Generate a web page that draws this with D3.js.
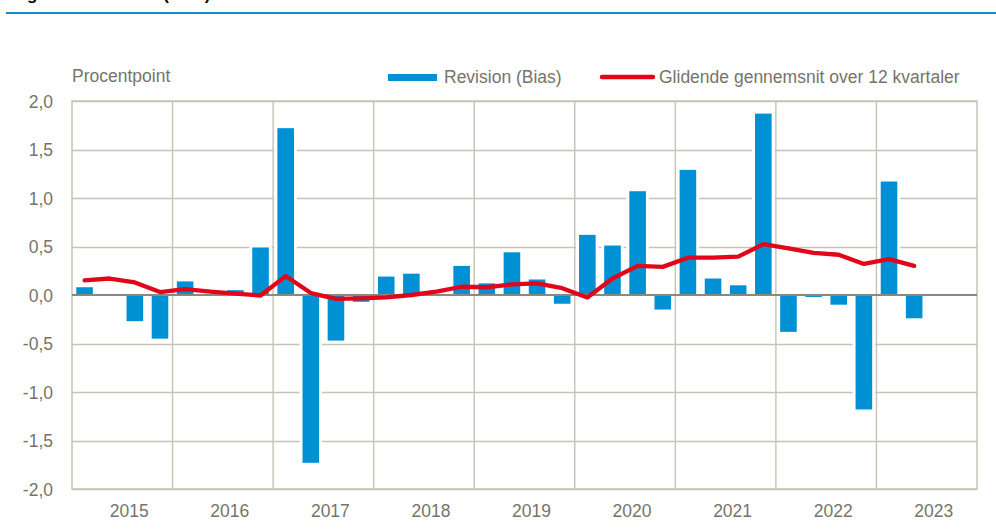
<!DOCTYPE html>
<html>
<head>
<meta charset="utf-8">
<script src="https://cdn.jsdelivr.net/npm/d3@7"></script>
<style>
  html, body { margin: 0; padding: 0; background: #ffffff; }
  svg { display: block; }
  text { font-family: "Liberation Sans", Arial, sans-serif; }
</style>
</head>
<body>
<svg id="chart" width="996" height="531"></svg>
<script>
// ---------------- DATA ----------------
const years = ["2015", "2016", "2017", "2018", "2019", "2020", "2021", "2022", "2023"];
const quarters = ["K1", "K2", "K3", "K4"];
// Revision (Bias), percentage points, quarterly from 2015K1 (null = no value)
const revision = [
  0.08, 0.00, -0.27, -0.45,
  0.14, 0.00, 0.05, 0.49,
  1.72, -1.73, -0.47, -0.07,
  0.19, 0.22, 0.00, 0.30,
  0.12, 0.44, 0.16, -0.09,
  0.62, 0.51, 1.07, -0.15,
  1.29, 0.17, 0.10, 1.87,
  -0.38, -0.02, -0.10, -1.18,
  1.17, -0.24, null, null
];
// Moving average over 12 quarters
const movingAvg = [
  0.15, 0.17, 0.13, 0.03,
  0.06, 0.035, 0.015, -0.005,
  0.195, 0.02, -0.04, -0.035,
  -0.025, 0.00, 0.035, 0.085,
  0.08, 0.11, 0.12, 0.07,
  -0.025, 0.17, 0.30, 0.29,
  0.385, 0.385, 0.395, 0.525,
  0.48, 0.435, 0.415, 0.32,
  0.37, 0.30, null, null
];
const yTicks = [-2.0, -1.5, -1.0, -0.5, 0.0, 0.5, 1.0, 1.5, 2.0];
const yLabel = "Procentpoint";
const legendLabels = ["Revision (Bias)", "Glidende gennemsnit over 12 kvartaler"];
const titleText = "Figur 2.1 Revision (BNP)";

// ---------------- LAYOUT ----------------
const colBar = "#0091d5", colLine = "#e2061b", colGrid = "#c6c3b6", colZero = "#8b897c", colText = "#76746a";
const pLeft = 72, pRight = 977, pTop = 101, pBottom = 489;
const fs = 17.5;

const periods = [];
years.forEach(yr => quarters.forEach(q => periods.push(yr + q)));

const svg = d3.select("#chart");

const x = d3.scaleBand().domain(periods).range([pLeft, pRight]).paddingInner(0.34).paddingOuter(0.17);
const xYear = d3.scaleBand().domain(years).range([pLeft, pRight]);
const y = d3.scaleLinear().domain([-2, 2]).range([pBottom, pTop]);

// title (cropped at top edge, as in the reference) and blue rule
svg.append("text").attr("x", 12).attr("y", -0.5).attr("font-weight", "bold")
  .attr("font-size", 17).attr("fill", "#000").text(titleText);
svg.append("line").attr("x1", 6).attr("x2", 996).attr("y1", 13).attr("y2", 13)
  .attr("stroke", "#0a8fd0").attr("stroke-width", 2);

// grid
const grid = svg.append("g");
grid.selectAll("line.h").data(yTicks.filter(d => d !== 0)).enter().append("line")
  .attr("x1", pLeft).attr("x2", pRight)
  .attr("y1", d => Math.round(y(d)) + 0.5).attr("y2", d => Math.round(y(d)) + 0.5)
  .attr("stroke", colGrid).attr("stroke-width", 1.4);
grid.selectAll("line.v").data(years.slice(1)).enter().append("line")
  .attr("x1", d => xYear(d)).attr("x2", d => xYear(d))
  .attr("y1", pTop).attr("y2", pBottom)
  .attr("stroke", colGrid).attr("stroke-width", 1.4);
// border
grid.append("rect").attr("x", pLeft).attr("y", pTop).attr("width", pRight - pLeft).attr("height", pBottom - pTop)
  .attr("fill", "none").attr("stroke", colGrid).attr("stroke-width", 1.5);

// bars with white halo
const barData = periods.map((p, i) => ({ p, v: revision[i] })).filter(d => d.v !== null && d.v !== 0);
svg.append("g").selectAll("rect").data(barData).enter().append("rect")
  .attr("x", d => x(d.p) - 3).attr("width", x.bandwidth() + 6)
  .attr("y", d => Math.min(y(d.v), y(0)) - 1.5)
  .attr("height", d => Math.abs(y(d.v) - y(0)) + 3)
  .attr("fill", "#ffffff");
svg.append("g").selectAll("rect").data(barData).enter().append("rect")
  .attr("x", d => x(d.p)).attr("width", x.bandwidth())
  .attr("y", d => Math.min(y(d.v), y(0)))
  .attr("height", d => Math.abs(y(d.v) - y(0)))
  .attr("fill", colBar);

// zero line
svg.append("line").attr("x1", pLeft).attr("x2", pRight).attr("y1", y(0)).attr("y2", y(0))
  .attr("stroke", colZero).attr("stroke-width", 2);

// moving average line
const lineData = periods.map((p, i) => ({ p, v: movingAvg[i] })).filter(d => d.v !== null);
svg.append("path").datum(lineData)
  .attr("d", d3.line().x(d => x(d.p) + x.bandwidth() / 2).y(d => y(d.v)))
  .attr("fill", "none").attr("stroke", colLine).attr("stroke-width", 4.3)
  .attr("stroke-linejoin", "round").attr("stroke-linecap", "round");

// y tick labels
const fmt = v => (v < 0 ? "-" : "") + Math.abs(v).toFixed(1).replace(".", ",");
svg.append("g").selectAll("text").data(yTicks).enter().append("text")
  .attr("x", 53).attr("y", d => y(d) + 6.5).attr("text-anchor", "end")
  .attr("font-size", fs).attr("fill", colText).text(fmt);

// x year labels
svg.append("g").selectAll("text").data(years).enter().append("text")
  .attr("x", d => xYear(d) + xYear.bandwidth() / 2 + 7).attr("y", 517).attr("text-anchor", "middle")
  .attr("font-size", fs).attr("fill", colText).text(d => d);

// unit label
svg.append("text").attr("x", 72).attr("y", 82).attr("font-size", fs).attr("fill", colText).text(yLabel);

// legend
svg.append("rect").attr("x", 388).attr("y", 74).attr("width", 49).attr("height", 7).attr("fill", colBar);
svg.append("text").attr("x", 444).attr("y", 83).attr("font-size", fs).attr("fill", colText).text(legendLabels[0]);
svg.append("line").attr("x1", 602).attr("x2", 653).attr("y1", 77).attr("y2", 77)
  .attr("stroke", colLine).attr("stroke-width", 4.5).attr("stroke-linecap", "round");
svg.append("text").attr("x", 659).attr("y", 83).attr("font-size", fs).attr("fill", colText).text(legendLabels[1]);
</script>
</body>
</html>
